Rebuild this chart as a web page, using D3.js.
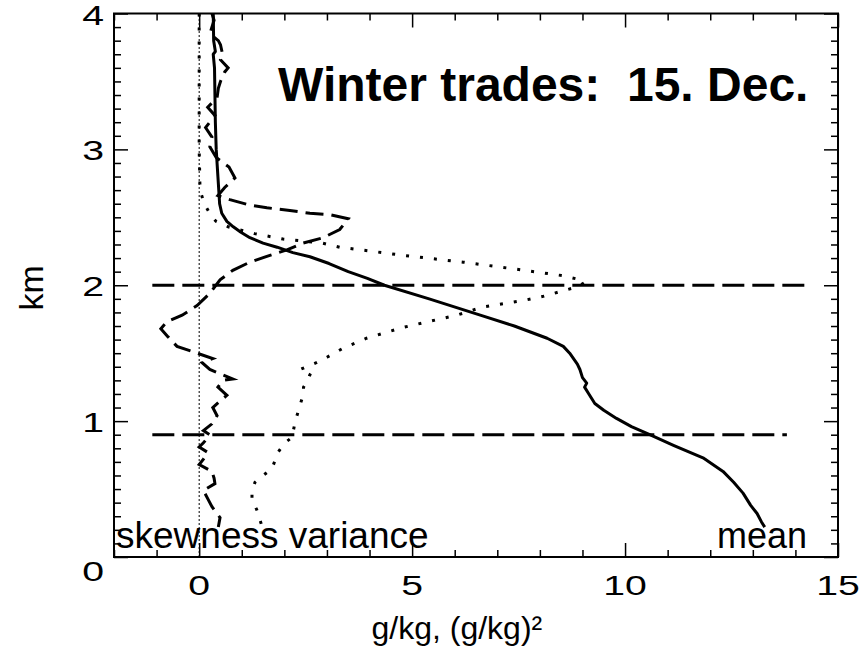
<!DOCTYPE html>
<html>
<head>
<meta charset="utf-8">
<script src="https://cdn.jsdelivr.net/npm/d3@7"></script>
<style>
  body { margin: 0; background: #fff; }
  text { font-family: "Liberation Sans", Arial, sans-serif; fill: #000; white-space: pre; }
</style>
</head>
<body>
<div id="chart"></div>
<script>
// profiles as [height km, value]
const meanProfile = [
  [4.0, 0.33], [3.8, 0.34], [3.72, 0.38], [3.7, 0.33], [3.6, 0.36], [3.4, 0.37],
  [3.2, 0.38], [3.0, 0.40], [2.8, 0.44], [2.6, 0.48], [2.53, 0.53], [2.47, 0.65],
  [2.43, 0.8], [2.39, 0.98], [2.35, 1.19], [2.31, 1.5], [2.28, 1.83], [2.24, 2.2],
  [2.21, 2.6], [2.16, 3.05], [2.1, 3.5], [2.05, 3.95], [2.0, 4.35], [1.9, 5.4],
  [1.78, 6.6], [1.7, 7.4], [1.61, 8.17], [1.55, 8.55], [1.5, 8.7], [1.42, 8.88],
  [1.38, 8.94], [1.32, 9.0], [1.28, 9.1], [1.25, 9.05], [1.2, 9.15], [1.13, 9.29],
  [1.08, 9.5], [1.02, 9.8], [0.96, 10.15], [0.9, 10.58], [0.82, 11.15], [0.73, 11.83],
  [0.63, 12.3], [0.55, 12.55], [0.47, 12.77], [0.38, 12.95], [0.32, 13.1], [0.26, 13.2],
  [0.22, 13.28]
];

const varianceProfile = [
  [4.0, 0.0], [3.0, 0.0], [2.7, 0.02], [2.6, 0.12], [2.5, 0.3], [2.47, 0.4],
  [2.43, 0.68], [2.38, 1.3], [2.34, 1.97], [2.31, 2.9], [2.28, 3.3], [2.22, 4.8],
  [2.17, 6.2], [2.12, 7.4], [2.07, 8.55], [2.04, 8.95], [2.02, 9.05], [1.99, 8.9],
  [1.96, 8.55], [1.92, 8.1], [1.89, 7.65], [1.84, 6.66], [1.78, 6.05], [1.69, 4.79],
  [1.61, 3.93], [1.54, 3.4], [1.47, 3.0], [1.43, 2.75], [1.38, 2.37], [1.34, 2.6],
  [1.3, 2.55], [1.25, 2.45], [1.2, 2.45], [1.12, 2.37], [0.99, 2.25], [0.88, 2.18],
  [0.84, 2.01], [0.77, 1.85], [0.65, 1.71], [0.6, 1.5], [0.55, 1.31], [0.48, 1.24],
  [0.42, 1.24], [0.35, 1.35], [0.27, 1.43], [0.22, 1.48]
];

const skewnessProfile = [
  [4.0, 0.3], [3.95, 0.35], [3.85, 0.25], [3.8, 0.45], [3.77, 0.5], [3.7, 0.55],
  [3.66, 0.5], [3.6, 0.68], [3.57, 0.6], [3.5, 0.5], [3.45, 0.45], [3.38, 0.42],
  [3.31, 0.2], [3.25, 0.37], [3.16, 0.15], [3.09, 0.3], [3.02, 0.25], [2.94, 0.4],
  [2.87, 0.7], [2.79, 0.84], [2.72, 0.6], [2.66, 0.44], [2.63, 0.72], [2.59, 1.19],
  [2.57, 1.59], [2.55, 2.13], [2.53, 2.6], [2.52, 3.07], [2.49, 3.5], [2.41, 3.3],
  [2.35, 2.91], [2.31, 2.44], [2.26, 2.06], [2.22, 1.66], [2.17, 1.19], [2.11, 0.79],
  [2.04, 0.49], [1.94, 0.25], [1.85, -0.05], [1.78, -0.4], [1.73, -0.76], [1.68, -0.9],
  [1.62, -0.73], [1.55, -0.52], [1.5, -0.05], [1.46, 0.32], [1.43, 0.07], [1.38, 0.25],
  [1.31, 0.79], [1.3, 0.56], [1.25, 0.44], [1.19, 0.65], [1.15, 0.5], [1.1, 0.32],
  [1.04, 0.42], [0.98, 0.3], [0.93, 0.1], [0.9, 0.25], [0.88, 0.2], [0.84, 0.1],
  [0.81, 0.0], [0.77, 0.2], [0.72, 0.1], [0.68, 0.0], [0.63, 0.3], [0.58, 0.35],
  [0.54, 0.37], [0.49, 0.1], [0.43, 0.2], [0.37, 0.3], [0.29, 0.49], [0.22, 0.45]
];

// inversion base and top heights (km) with the x extent of each marker
const layerLines = [0.9, 2.0];
const layerEnds = [13.8, 14.3];

const xTicks = [0, 5, 10, 15];
const yTicks = [0, 1, 2, 3, 4];

const width = 864;
const height = 647;
const margin = { left: 114, right: 26, top: 13.5, bottom: 90 };

const svg = d3.select("#chart")
  .append("svg")
  .attr("width", width)
  .attr("height", height);

const x = d3.scaleLinear().domain([-2, 15]).range([margin.left, width - margin.right]);
const y = d3.scaleLinear().domain([0, 4]).range([height - margin.bottom, margin.top]);

// zero line
svg.append("line")
  .attr("x1", x(0)).attr("x2", x(0))
  .attr("y1", y(0)).attr("y2", y(4))
  .attr("stroke", "#000")
  .attr("stroke-width", 1)
  .attr("stroke-dasharray", "2,2");

// horizontal layer markers
svg.selectAll(".layer")
  .data(layerLines)
  .join("line")
  .attr("class", "layer")
  .attr("x1", x(-1.1)).attr("x2", (d, i) => x(layerEnds[i]))
  .attr("y1", d => y(d)).attr("y2", d => y(d))
  .attr("stroke", "#000")
  .attr("stroke-width", 3)
  .attr("stroke-dasharray", "22,8");

const line = d3.line()
  .x(d => x(d[1]))
  .y(d => y(d[0]));

svg.append("path")
  .datum(meanProfile)
  .attr("d", line)
  .attr("fill", "none")
  .attr("stroke", "#000")
  .attr("stroke-width", 3)
  .attr("stroke-linejoin", "round");

svg.append("path")
  .datum(varianceProfile)
  .attr("d", line)
  .attr("fill", "none")
  .attr("stroke", "#000")
  .attr("stroke-width", 3)
  .attr("stroke-dasharray", "3,11");

svg.append("path")
  .datum(skewnessProfile)
  .attr("d", line)
  .attr("fill", "none")
  .attr("stroke", "#000")
  .attr("stroke-width", 3)
  .attr("stroke-dasharray", "18,8");

// axes box and ticks
const minorX = d3.range(-2, 16, 1);
const minorY = d3.range(0, 4.001, 0.1);

function ticks(g, axis, minor, major) {
  g.call(axis.tickValues(minor).tickSize(-7).tickFormat(""));
  g.selectAll(".tick line")
    .attr("stroke-width", 1.5)
    .each(function(d) {
      if (major.some(m => Math.abs(m - d) < 1e-6)) {
        const l = d3.select(this);
        if (l.attr("x2") !== null && +l.attr("x2") !== 0) l.attr("x2", +l.attr("x2") * 2);
        if (l.attr("y2") !== null && +l.attr("y2") !== 0) l.attr("y2", +l.attr("y2") * 2);
      }
    });
  g.select(".domain").remove();
}

svg.append("g").attr("transform", `translate(0,${y(0)})`)
  .call(g => ticks(g, d3.axisBottom(x), minorX, xTicks));
svg.append("g").attr("transform", `translate(0,${y(4)})`)
  .call(g => ticks(g, d3.axisTop(x), minorX, xTicks));
svg.append("g").attr("transform", `translate(${x(-2)},0)`)
  .call(g => ticks(g, d3.axisLeft(y), minorY, yTicks));
svg.append("g").attr("transform", `translate(${x(15)},0)`)
  .call(g => ticks(g, d3.axisRight(y), minorY, yTicks));

svg.append("rect")
  .attr("x", x(-2)).attr("y", y(4))
  .attr("width", x(15) - x(-2)).attr("height", y(0) - y(4))
  .attr("fill", "none")
  .attr("stroke", "#000")
  .attr("stroke-width", 2);

// tick labels (wide vector-font look)
svg.selectAll(".xlab")
  .data(xTicks)
  .join("text")
  .attr("class", "xlab")
  .attr("transform", d => `translate(${x(d)},${y(0) + 38}) scale(1.4,1)`)
  .attr("text-anchor", "middle")
  .attr("font-size", 28)
  .text(d => d);

svg.selectAll(".ylab")
  .data(yTicks)
  .join("text")
  .attr("class", "ylab")
  .attr("transform", d => `translate(${x(-2) - 10},${y(d) + (d === 0 ? 24 : 11)}) scale(1.4,1)`)
  .attr("text-anchor", "end")
  .attr("font-size", 28)
  .text(d => d);

svg.append("text")
  .attr("transform", `translate(${x(6.05)},639)`)
  .attr("text-anchor", "middle")
  .attr("font-size", 32)
  .text("g/kg, (g/kg)²");

svg.append("text")
  .attr("transform", `translate(43,${y(1.98)}) rotate(-90)`)
  .attr("text-anchor", "middle")
  .attr("font-size", 34)
  .text("km");

svg.append("text")
  .attr("x", 278).attr("y", 101)
  .attr("font-size", 48)
  .attr("font-weight", "bold")
  .text("Winter trades:  15. Dec.");

svg.append("text")
  .attr("x", 116).attr("y", 548)
  .attr("font-size", 37)
  .text("skewness variance");

svg.append("text")
  .attr("x", 807).attr("y", 548)
  .attr("text-anchor", "end")
  .attr("font-size", 36)
  .text("mean");
</script>
</body>
</html>
